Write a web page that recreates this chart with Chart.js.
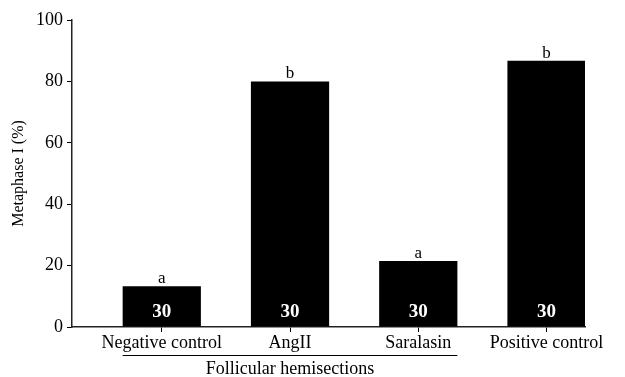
<!DOCTYPE html>
<html>
<head>
<meta charset="utf-8">
<script src="https://cdn.jsdelivr.net/npm/chart.js@4"></script>
<style>
  html, body { margin: 0; padding: 0; background: #fff; }
  #wrap { width: 625px; height: 377px; }
</style>
</head>
<body>
<div id="wrap"><canvas id="myChart"></canvas></div>
<script>
const groups = ["Negative control", "AngII", "Saralasin", "Positive control"];
const metaphase = [13.3, 80, 21.5, 86.7];
const letters = ["a", "b", "a", "b"];
const counts = ["30", "30", "30", "30"];
const yTicks = [0, 20, 40, 60, 80, 100];
const bracketTitle = "Follicular hemisections";
const bracketGroups = [0, 2];

const serif = "'Liberation Serif', 'Times New Roman', serif";

// letters above bars, n inside bars, bracket under the first three groups
const annotate = {
  id: "annotate",
  afterDatasetsDraw(chart) {
    const ctx = chart.ctx;
    const bars = chart.getDatasetMeta(0).data;
    ctx.save();
    ctx.textAlign = "center";
    bars.forEach((bar, i) => {
      ctx.fillStyle = "#000";
      ctx.font = "17px " + serif;
      ctx.textBaseline = "alphabetic";
      ctx.fillText(letters[i], bar.x, bar.y - 3);
      ctx.fillStyle = "#fff";
      ctx.font = "bold 19px " + serif;
      ctx.textBaseline = "middle";
      ctx.fillText(counts[i], bar.x, bar.base - 14);
    });
    const a = bars[bracketGroups[0]], b = bars[bracketGroups[1]];
    const x1 = a.x - a.width / 2, x2 = b.x + b.width / 2;
    const bottom = chart.scales.x.bottom;
    ctx.strokeStyle = "#000";
    ctx.lineWidth = 1;
    ctx.beginPath();
    ctx.moveTo(x1, bottom - 21.5);
    ctx.lineTo(x2, bottom - 21.5);
    ctx.stroke();
    ctx.fillStyle = "#000";
    ctx.font = "18px " + serif;
    ctx.textBaseline = "middle";
    ctx.fillText(bracketTitle, (x1 + x2) / 2, bottom - 8);
    ctx.restore();
  }
};

var chartBox = document.getElementById("myChart");
var chart1 = new Chart(chartBox, {
  type: "bar",
  data: {
    datasets: [
      {
        data: metaphase.map((v, i) => ({ x: i, y: v })),
        backgroundColor: "#000",
        barPercentage: 0.61,
        categoryPercentage: 1,
      },
    ],
  },
  options: {
    responsive: true,
    maintainAspectRatio: false,
    animation: false,
    layout: { padding: { top: 20, right: 40, left: 0, bottom: 0 } },
    plugins: {
      legend: { display: false },
      tooltip: { enabled: false },
    },
    scales: {
      x: {
        type: "linear",
        offset: false,
        min: -0.7,
        max: 3.3,
        afterBuildTicks: (axis) => {
          axis.ticks = groups.map((g, i) => ({ value: i }));
        },
        afterFit: (axis) => { axis.height = 50; },
        ticks: {
          callback: (v) => groups[v],
          color: "#000",
          font: { family: serif, size: 18 },
          padding: 0,
          maxRotation: 0,
          autoSkip: false,
        },
        grid: {
          offset: false,
          drawOnChartArea: false,
          color: "#000",
          tickLength: 5,
        },
        border: { color: "#222", width: 1.5 },
      },
      y: {
        min: 0,
        max: 100,
        afterBuildTicks: (axis) => {
          axis.ticks = yTicks.map((v) => ({ value: v }));
        },
        afterFit: (axis) => { axis.width = 72; },
        title: {
          display: true,
          text: "Metaphase I (%)",
          color: "#000",
          font: { family: serif, size: 16 },
          padding: { top: 9, bottom: 0 },
        },
        ticks: {
          color: "#000",
          font: { family: serif, size: 18 },
          padding: 4,
        },
        grid: {
          drawOnChartArea: false,
          color: "#000",
          tickLength: 5,
        },
        border: { color: "#222", width: 1.5 },
      },
    },
  },
  plugins: [annotate],
});
</script>
</body>
</html>
